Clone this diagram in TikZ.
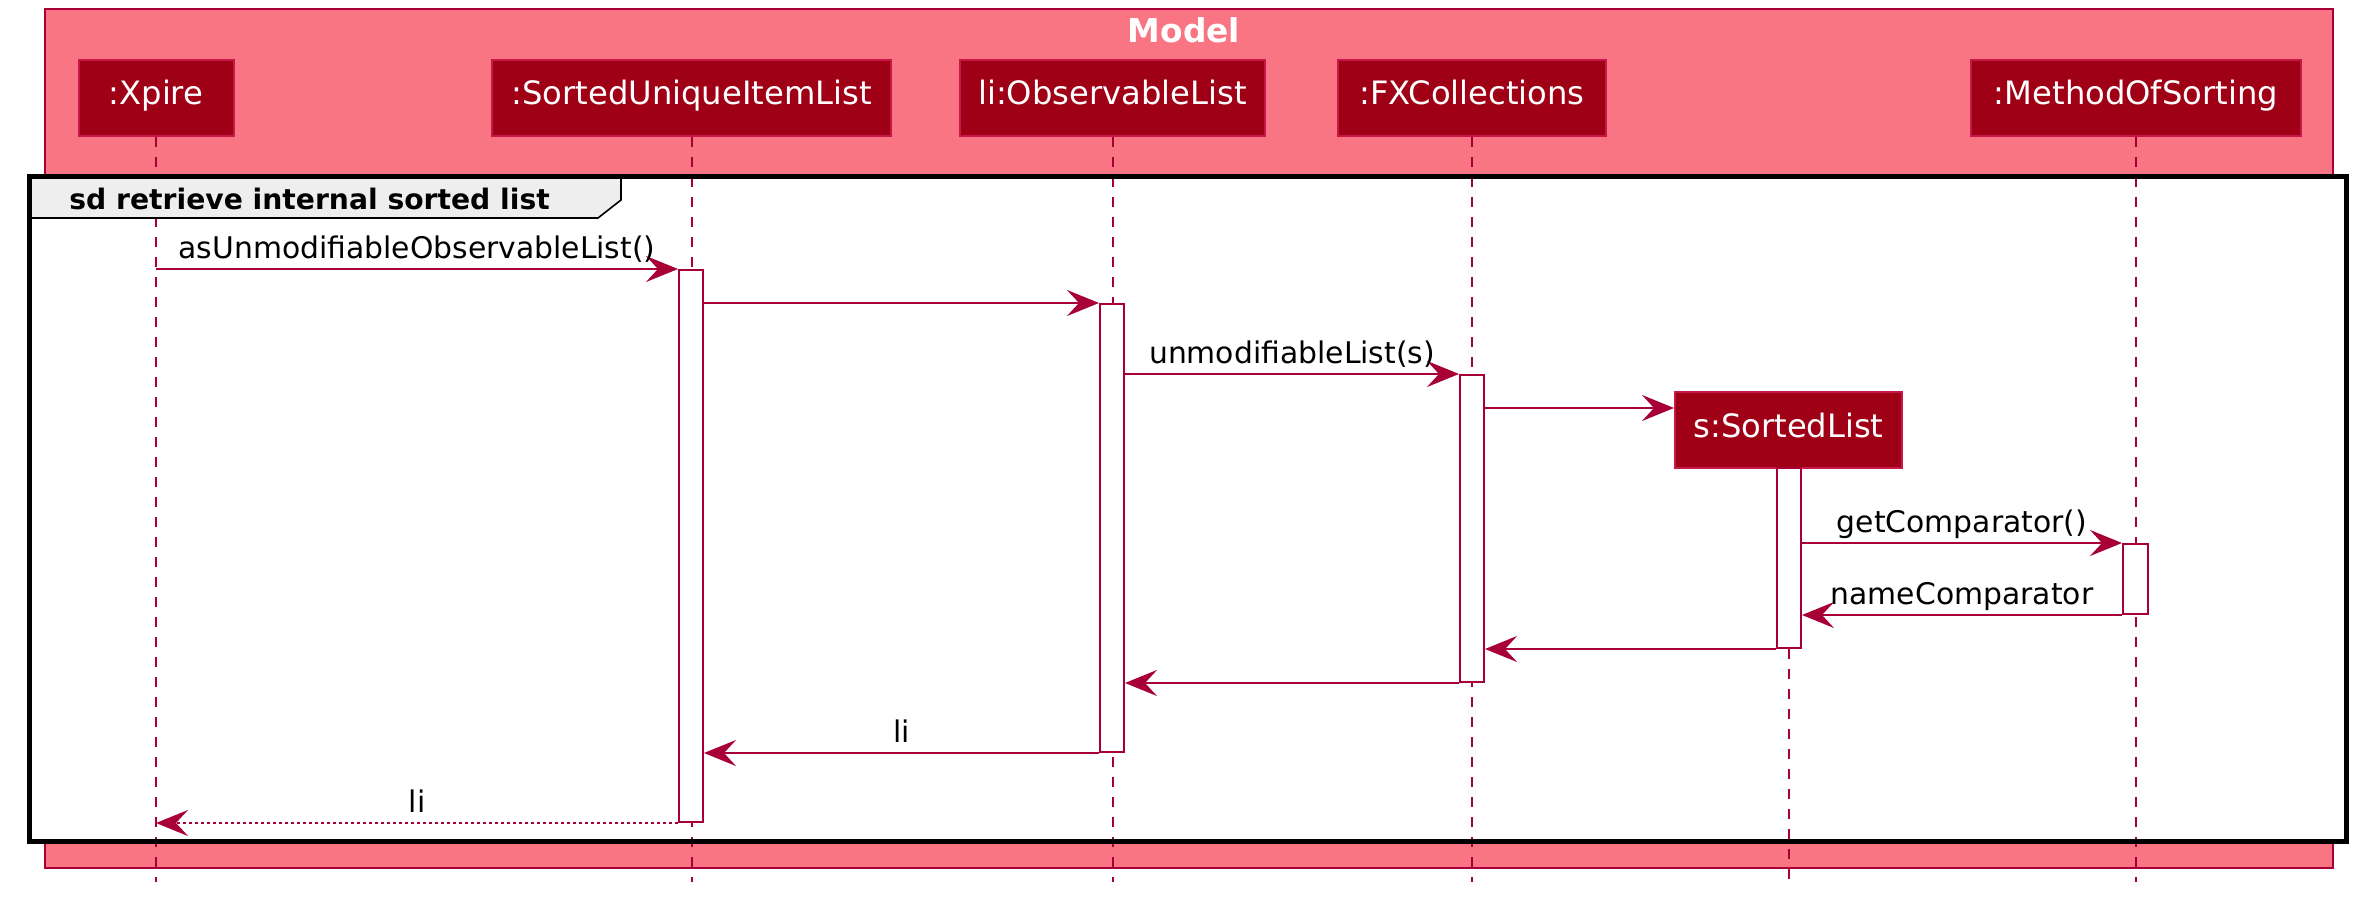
\documentclass[tikz,border=0pt]{standalone}
\usepackage{fontspec}
\setmainfont{DejaVu Sans}
\usepackage{tikz}
\usetikzlibrary{positioning,fit,arrows.meta}

\definecolor{umlred}{HTML}{A80036}
\definecolor{partfill}{HTML}{9F0016}
\definecolor{partedge}{HTML}{C8184A}
\definecolor{modelfill}{HTML}{FA7584}
\definecolor{tabfill}{HTML}{EEEEEE}

\newcommand{\msgfont}{\fontsize{14.9}{17}\selectfont}
\newcommand{\partfont}{\fontsize{16.1}{19}\selectfont}
\newcommand{\modelfont}{\fontsize{16.4}{19}\selectfont\bfseries}
\newcommand{\sdfont}{\fontsize{14.1}{17}\selectfont\bfseries}

\begin{document}
\begin{tikzpicture}[x=0.5pt,y=-0.5pt,
    part/.style={rectangle,fill=partfill,draw=partedge,line width=1pt,text=white,
                 font=\partfont,minimum height=38pt,inner sep=0pt,
                 text height=0.75em,text depth=0.05em},
    act/.style={rectangle,draw=umlred,fill=white,line width=1pt,inner sep=0pt},
    lifeline/.style={draw=umlred,line width=1pt,dash pattern=on 5pt off 5pt},
    msg/.style={draw=umlred,line width=1pt,
                -{Stealth[length=16pt,width=13pt,inset=6pt,umlred]}},
    reply/.style={msg,dash pattern=on 1.5pt off 1.5pt},
    lbl/.style={font=\msgfont,anchor=base,inner sep=0pt,yshift=5.5pt}]
  \useasboundingbox (0,0) rectangle (2371,909);

  \node[rectangle,fill=modelfill,draw=umlred,line width=0.6pt,inner sep=0pt,
        fit={(45,9) (2333,868)}] (model) {};
  \node[font=\modelfont,text=white,anchor=base] (modelname) at (1184,43) {Model};

  \node[rectangle,fill=white,inner sep=0pt,fit={(30,177) (2346,841)}] (sd) {};

  \node[part,minimum width=77.5pt]  (xp)  at (156,98)    {:Xpire};
  \node[part,minimum width=199.5pt] (sul) at (691.5,98)  {:SortedUniqueItemList};
  \node[part,minimum width=152.5pt] (ol)  at (1112.5,98) {li:ObservableList};
  \node[part,minimum width=134pt]   (fx)  at (1472,98)   {:FXCollections};
  \node[part,minimum width=165pt]   (ms)  at (2136,98)   {:MethodOfSorting};

  \coordinate (bottom) at (0,882);
  \coordinate (create) at (0,408);

  \foreach \p in {xp,sul,ol,fx,ms}
    \draw[lifeline] (\p.south) -- (\p.south |- bottom);

  \node[part,minimum width=113.5pt] (sl) at (1788.5,430) {s:SortedList};
  \draw[lifeline] (sl.south) -- (sl.south |- bottom);

  \draw[fill=tabfill,line width=0.8pt] (sd.north west) -- (621,177) -- (621,200)
        -- (598,218) -- (30,218) -- cycle;
  \node[font=\sdfont,anchor=base west,inner sep=0pt] (sdname) at (69,210)
        {sd retrieve internal sorted list};
  \draw[line width=2.5pt] (sd.north west) rectangle (sd.south east);

  \node[act,fit={(679,270) (703,822)}]   (actsul) {};
  \node[act,fit={(1100,304) (1124,752)}] (actol)  {};
  \node[act,fit={(1460,375) (1484,682)}] (actfx)  {};
  \node[act,fit={(1777,468) (1801,648)}] (actsl)  {};
  \node[act,fit={(2123,544) (2148,614)}] (actms)  {};

  \draw[msg] (xp.south |- actsul.north) -- node[lbl] {asUnmodifiableObservableList()} (actsul.north west);
  \draw[msg] (actsul.east |- actol.north) -- (actol.north west);
  \draw[msg] (actol.east |- actfx.north) -- node[lbl] {unmodifiableList(s)} (actfx.north west);
  \draw[msg] (actfx.east |- create) -- (sl.west |- create);
  \draw[msg] (actsl.east |- actms.north) -- node[lbl] {getComparator()} (actms.north west);
  \draw[msg] (actms.south west) -- node[lbl] {nameComparator} (actsl.east |- actms.south);
  \draw[msg] (actsl.south west) -- (actfx.east |- actsl.south);
  \draw[msg] (actfx.south west) -- (actol.east |- actfx.south);
  \draw[msg] (actol.south west) -- node[lbl] {li} (actsul.east |- actol.south);
  \draw[reply] (actsul.south west) -- node[lbl] {li} (xp.south |- actsul.south);
\end{tikzpicture}
\end{document}
